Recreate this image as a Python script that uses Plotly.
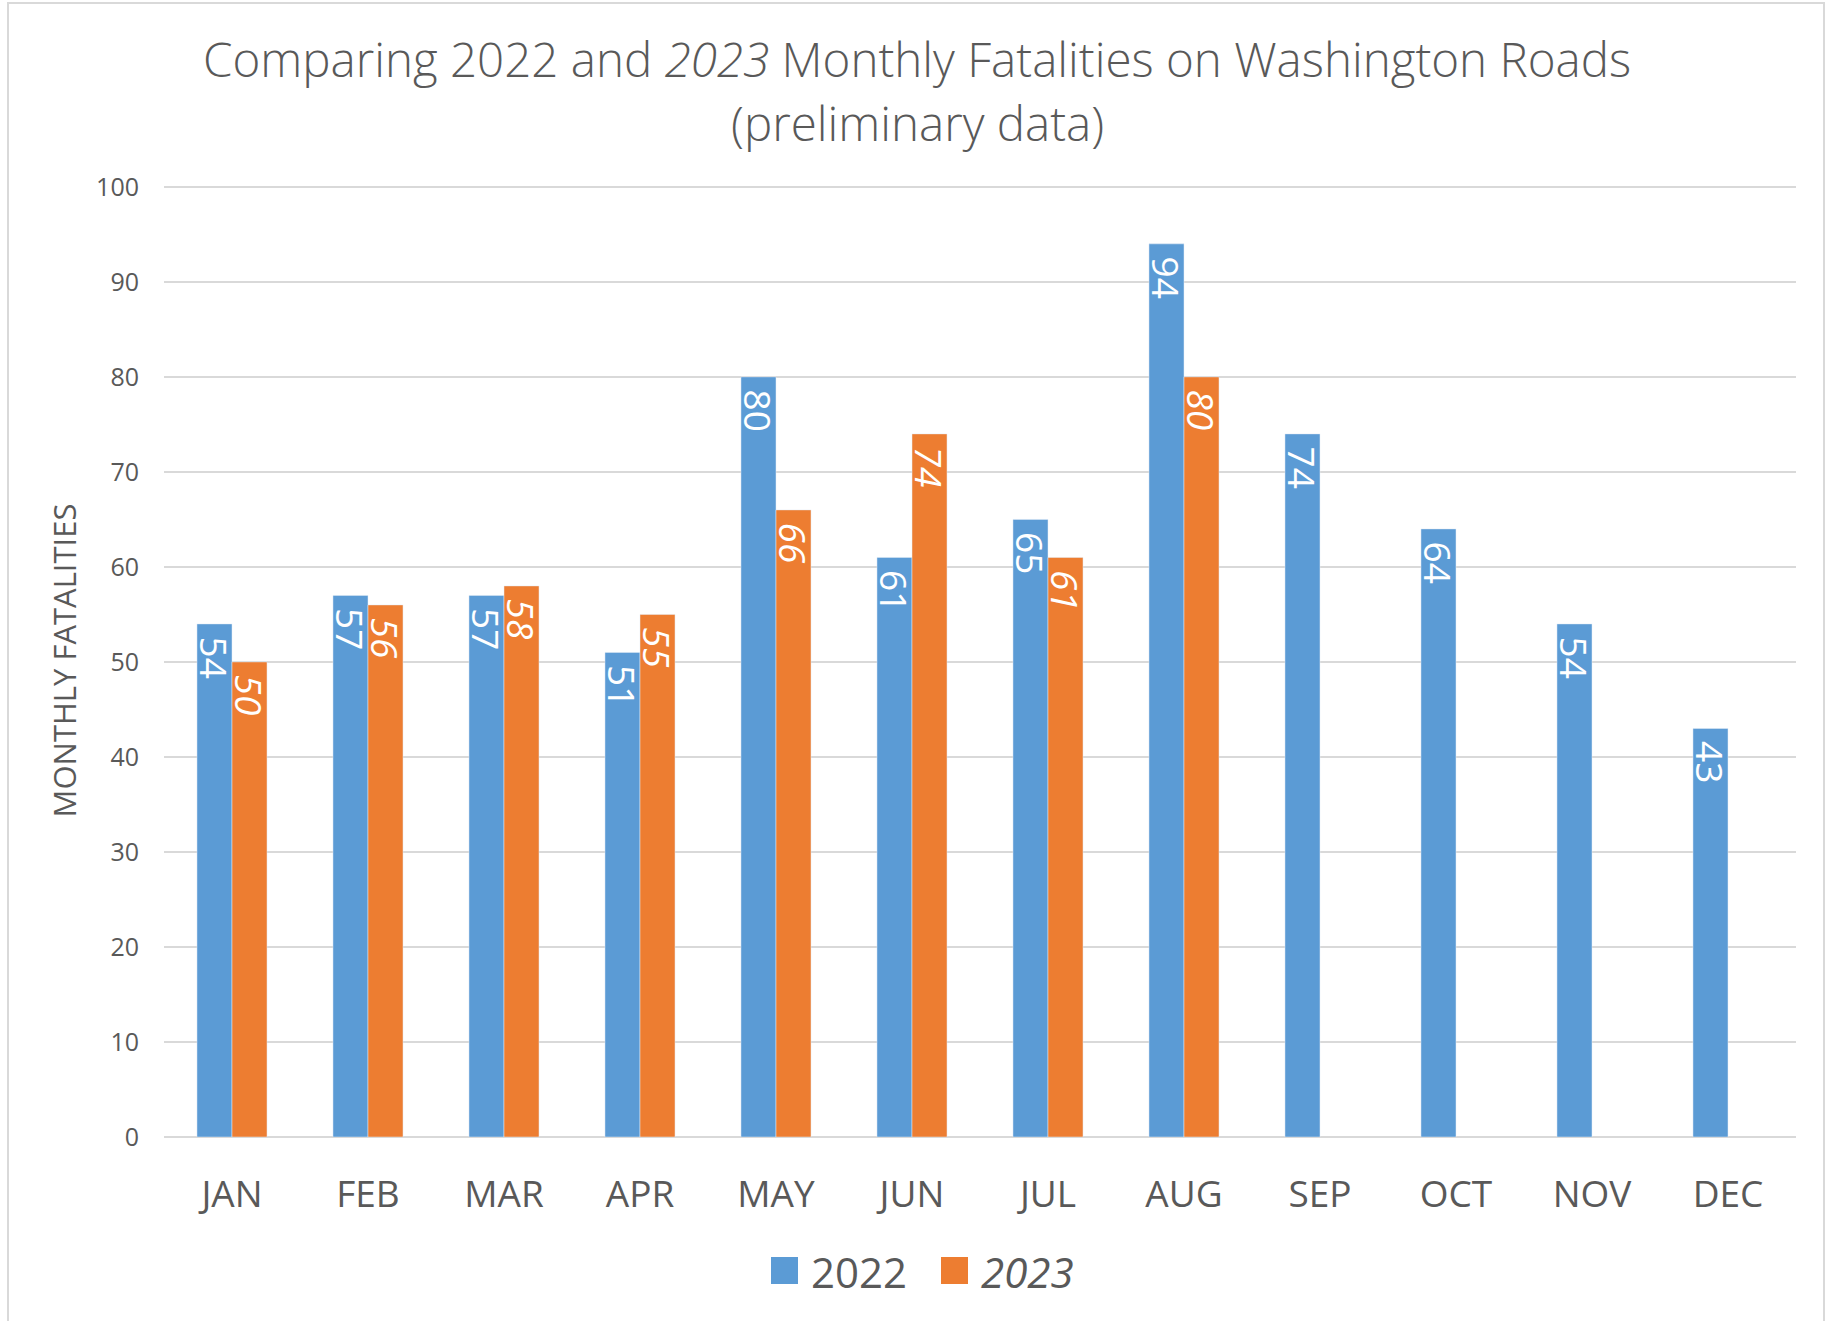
import plotly.graph_objects as go

months = ["JAN", "FEB", "MAR", "APR", "MAY", "JUN", "JUL", "AUG", "SEP", "OCT", "NOV", "DEC"]
fatal_2022 = [54, 57, 57, 51, 80, 61, 65, 94, 74, 64, 54, 43]
fatal_2023 = [50, 56, 58, 55, 66, 74, 61, 80, None, None, None, None]
y_ticks = [0, 10, 20, 30, 40, 50, 60, 70, 80, 90, 100]

BLUE = "#5B9BD5"
ORANGE = "#ED7D31"
GREY_TXT = "#595959"
GRID = "#D9D9D9"
FONT = "Open Sans"

W, H = 1838, 1321
L, R, T, B = 164, 42, 184, 184


def px_x(px):
    return (px - L) / (W - L - R)


def px_y(py):
    return (H - B - py) / (H - T - B)


fig = go.Figure()
fig.add_trace(go.Bar(
    name="2022", x=months, y=fatal_2022, marker_color=BLUE,
    texttemplate="\u00a0%{y}", textposition="inside", insidetextanchor="end",
    textangle=90, constraintext="none",
    textfont=dict(family=FONT, size=37, color="white"),
    showlegend=False,
))
fig.add_trace(go.Bar(
    name="2023", x=months, y=fatal_2023, marker_color=ORANGE,
    texttemplate="\u00a0%{y}", textposition="inside", insidetextanchor="end",
    textangle=90, constraintext="none",
    textfont=dict(family=FONT, size=37, color="white", style="italic"),
    showlegend=False,
))

shapes = [
    # outer chart border
    dict(type="rect", xref="paper", yref="paper",
         x0=px_x(8), x1=px_x(1824), y0=px_y(1340), y1=px_y(3),
         line=dict(color=GRID, width=2), fillcolor="rgba(0,0,0,0)", layer="below"),
    # legend swatches
    dict(type="rect", xref="paper", yref="paper",
         x0=px_x(771), x1=px_x(798), y0=px_y(1284), y1=px_y(1257),
         line=dict(width=0), fillcolor=BLUE),
    dict(type="rect", xref="paper", yref="paper",
         x0=px_x(941), x1=px_x(968), y0=px_y(1284), y1=px_y(1257),
         line=dict(width=0), fillcolor=ORANGE),
]

annotations = [
    dict(text="Comparing 2022 and <i>2023</i> Monthly Fatalities on Washington Roads",
         xref="paper", yref="paper", x=px_x(917), y=px_y(59),
         xanchor="center", yanchor="middle", showarrow=False,
         font=dict(family=FONT, size=47.5, color=GREY_TXT, weight=300)),
    dict(text="(preliminary data)",
         xref="paper", yref="paper", x=px_x(917), y=px_y(123),
         xanchor="center", yanchor="middle", showarrow=False,
         font=dict(family=FONT, size=47.5, color=GREY_TXT, weight=300)),
    dict(text="2022", xref="paper", yref="paper", x=px_x(809), y=px_y(1271),
         xanchor="left", yanchor="middle", showarrow=False,
         font=dict(family=FONT, size=42, color=GREY_TXT)),
    dict(text="<i>2023</i>", xref="paper", yref="paper", x=px_x(979), y=px_y(1271),
         xanchor="left", yanchor="middle", showarrow=False,
         font=dict(family=FONT, size=42, color=GREY_TXT)),
]

fig.update_layout(
    width=W, height=H,
    margin=dict(l=L, r=R, t=T, b=B, autoexpand=False),
    paper_bgcolor="white", plot_bgcolor="white",
    barmode="group", bargap=0.485, bargroupgap=0,
    showlegend=False,
    shapes=shapes, annotations=annotations,
    font=dict(family=FONT, color=GREY_TXT),
)
fig.update_xaxes(
    showgrid=False, showline=False, zeroline=False,
    tickfont=dict(family=FONT, size=37, color=GREY_TXT),
    ticks="", ticklabelstandoff=32, automargin=False,
)
fig.update_yaxes(
    range=[0, 100.3], tickvals=y_ticks,
    showgrid=True, gridcolor=GRID, gridwidth=2,
    zeroline=True, zerolinecolor=GRID, zerolinewidth=2,
    showline=False, ticks="",
    tickfont=dict(family=FONT, size=25, color=GREY_TXT),
    ticklabelstandoff=24, automargin=False,
    title=dict(text="MONTHLY FATALITIES", standoff=10,
               font=dict(family=FONT, size=31, color=GREY_TXT)),
)

fig.write_html("out.html",
               config={"displayModeBar": False},
               post_script="document.body.style.margin='0';document.body.style.overflow='hidden';")
